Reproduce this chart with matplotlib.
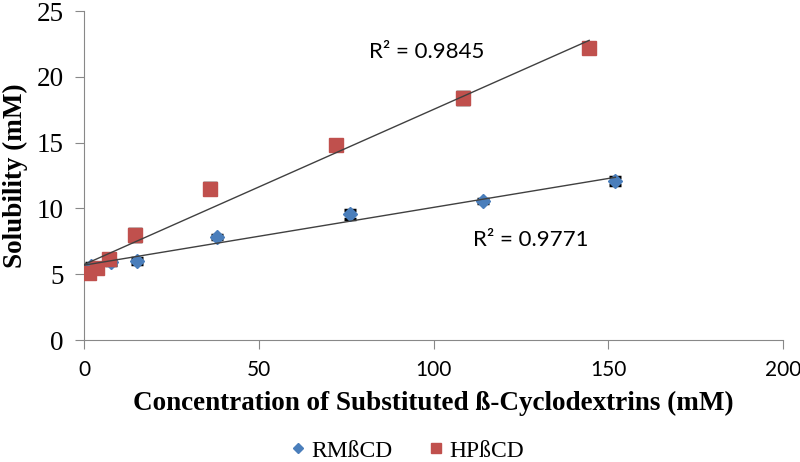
import matplotlib.pyplot as plt
import numpy as np

# RMbCD (blue diamonds)
rm_x = [1.9, 7.6, 15.2, 38.0, 76.0, 114.0, 152.0]
rm_y = [5.6, 5.9, 6.0, 7.85, 9.55, 10.6, 12.1]
rm_err = [0.25, 0.2, 0.2, 0.15, 0.35, 0.15, 0.3]

# HPbCD (red squares)
hp_x = [1.4, 3.6, 7.2, 14.5, 36.0, 72.0, 108.5, 144.5]
hp_y = [5.1, 5.45, 6.15, 8.0, 11.5, 14.8, 18.4, 22.2]
hp_err = [0.15, 0.2, 0.3, 0.45, 0.4, 0.1, 0.45, 0.1]

gray = "#888888"

fig = plt.figure(figsize=(8, 4.62), dpi=100)
ax = fig.add_axes([0.105, 0.264, 0.874, 0.712])

ax.errorbar(rm_x, rm_y, yerr=rm_err, fmt="none", ecolor="black", capsize=4, elinewidth=1, capthick=2.5, zorder=2)
ax.errorbar(hp_x, hp_y, yerr=hp_err, fmt="none", ecolor="black", capsize=5, elinewidth=1, capthick=2.5, zorder=2)
d1, = ax.plot(rm_x, rm_y, "D", color="#4a7ebb", markersize=7, zorder=3, label="RMßCD")
d2, = ax.plot(hp_x, hp_y, "s", color="#c0504d", markersize=10, zorder=3, label="HPßCD")

# linear trendlines
for xs, ys in [(rm_x, rm_y), (hp_x, hp_y)]:
    k, b = np.polyfit(xs, ys, 1)
    xx = np.array([0, max(xs)])
    ax.plot(xx, k * xx + b, color="#404040", linewidth=1, zorder=4)

ax.text(81.5, 21.9, "R² = 0.9845", fontsize=16, family="Lato", va="center")
ax.text(111.3, 7.6, "R² = 0.9771", fontsize=16, family="Lato", va="center")

ax.set_xlim(0, 200)
ax.set_ylim(0, 25)
ax.set_xticks([0, 50, 100, 150, 200])
ax.set_yticks([0, 5, 10, 15, 20, 25])
for s in ["top", "right"]:
    ax.spines[s].set_visible(False)
for s in ["left", "bottom"]:
    ax.spines[s].set_color(gray)
ax.tick_params(axis="both", direction="out", length=6.5, color=gray)
ax.tick_params(axis="x", labelsize=15, pad=8)
ax.tick_params(axis="y", labelsize=19.5, pad=8)
for lab in ax.get_xticklabels():
    lab.set_family("Lato")
for lab in ax.get_yticklabels():
    lab.set_family("Liberation Serif")

ax.set_xlabel("Concentration of Substituted ß-Cyclodextrins (mM)", fontsize=19.5,
              family="Liberation Serif", fontweight="bold", labelpad=8)
ax.set_ylabel("Solubility (mM)", fontsize=19.5, family="Liberation Serif",
              fontweight="bold", labelpad=6)

leg = fig.legend(handles=[d1, d2], loc="center", bbox_to_anchor=(0.505, 0.024),
                 ncol=2, frameon=False, prop={"family": "Liberation Serif", "size": 17},
                 handletextpad=0.0, columnspacing=1.2, markerscale=0.75, handlelength=1.2,
                 borderpad=0)

fig.savefig("out.png", dpi=100)
